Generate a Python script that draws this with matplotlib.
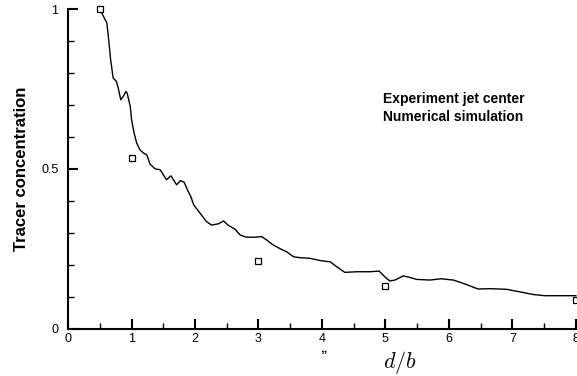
import numpy as np
import matplotlib
matplotlib.use("Agg")
import matplotlib.pyplot as plt
from matplotlib.ticker import MultipleLocator, FuncFormatter

plt.rcParams['font.family'] = ['Liberation Sans', 'DejaVu Sans']
plt.rcParams['mathtext.fontset'] = 'cm'

# --- data ---
sim_x = [0.50, 0.57, 0.61, 0.64, 0.67, 0.71, 0.76, 0.79, 0.83, 0.87, 0.91, 0.93,
         0.98, 1.00, 1.04, 1.08, 1.13, 1.19, 1.24, 1.29, 1.37, 1.45, 1.55, 1.62,
         1.71, 1.77, 1.83, 1.88, 1.93, 1.98, 2.08, 2.18, 2.26, 2.37, 2.45, 2.52,
         2.63, 2.71, 2.81, 2.94, 3.05, 3.13, 3.23, 3.36, 3.44, 3.55, 3.65, 3.81,
         3.97, 4.13, 4.23, 4.36, 4.55, 4.76, 4.90, 4.99, 5.07, 5.15, 5.28, 5.39,
         5.49, 5.70, 5.88, 6.07, 6.22, 6.46, 6.65, 6.91, 7.12, 7.32, 7.51, 7.75, 8.00]
sim_y = [1.000, 0.972, 0.957, 0.904, 0.842, 0.784, 0.774, 0.753, 0.716, 0.727, 0.742, 0.737,
         0.695, 0.654, 0.612, 0.581, 0.560, 0.549, 0.544, 0.515, 0.500, 0.497, 0.466, 0.478,
         0.450, 0.463, 0.458, 0.434, 0.415, 0.387, 0.361, 0.335, 0.324, 0.328, 0.337, 0.324,
         0.311, 0.293, 0.286, 0.286, 0.288, 0.277, 0.262, 0.248, 0.241, 0.225, 0.222, 0.220,
         0.213, 0.209, 0.194, 0.176, 0.178, 0.178, 0.180, 0.162, 0.149, 0.152, 0.165, 0.160,
         0.154, 0.152, 0.156, 0.152, 0.142, 0.124, 0.125, 0.123, 0.115, 0.107, 0.103, 0.103, 0.103]

exp_x = [0.5, 1.0, 3.0, 5.0, 8.0]
exp_y = [1.0, 0.533, 0.213, 0.133, 0.088]

# --- figure ---
fig = plt.figure(figsize=(5.77, 3.76), dpi=100)
ax = fig.add_axes([0.118, 0.126, 0.880, 0.850])

ax.plot(sim_x, sim_y, color='black', linewidth=1.0, clip_on=False)
ax.plot(exp_x, exp_y, linestyle='none', marker='s', markersize=5,
        markerfacecolor='white', markeredgecolor='black', markeredgewidth=0.9,
        clip_on=False, zorder=3)

ax.set_xlim(0, 8)
ax.set_ylim(0, 1)
ax.xaxis.set_major_locator(MultipleLocator(1))
ax.xaxis.set_minor_locator(MultipleLocator(0.5))
ax.yaxis.set_major_locator(MultipleLocator(0.5))
ax.yaxis.set_minor_locator(MultipleLocator(0.1))
ax.yaxis.set_major_formatter(FuncFormatter(lambda v, p: f"{v:g}"))

for s in ['top', 'right']:
    ax.spines[s].set_visible(False)
for s in ['left', 'bottom']:
    ax.spines[s].set_linewidth(1.5)

ax.tick_params(which='major', direction='in', length=7, width=1.5, labelsize=9)
ax.tick_params(which='minor', direction='in', length=4, width=1.0)
ax.tick_params(axis='y', which='major', pad=7)
ax.tick_params(axis='x', which='major', pad=3)

ax.set_ylabel('Tracer concentration', fontsize=12, fontweight='bold', labelpad=9)
fig.text(400 / 577, 1 - 362 / 376, r'$d/b$', fontsize=16, ha='center', va='center')
fig.text(323 / 577, 1 - 352 / 376, '\u201e', fontsize=9, fontweight='bold',
         ha='center', va='baseline')

ax.text(0.620, 0.72, 'Experiment jet center', transform=ax.transAxes,
        fontsize=10, fontweight='bold', va='center')
ax.text(0.620, 0.663, 'Numerical simulation', transform=ax.transAxes,
        fontsize=10, fontweight='bold', va='center')

fig.savefig('out.png', dpi=100)
